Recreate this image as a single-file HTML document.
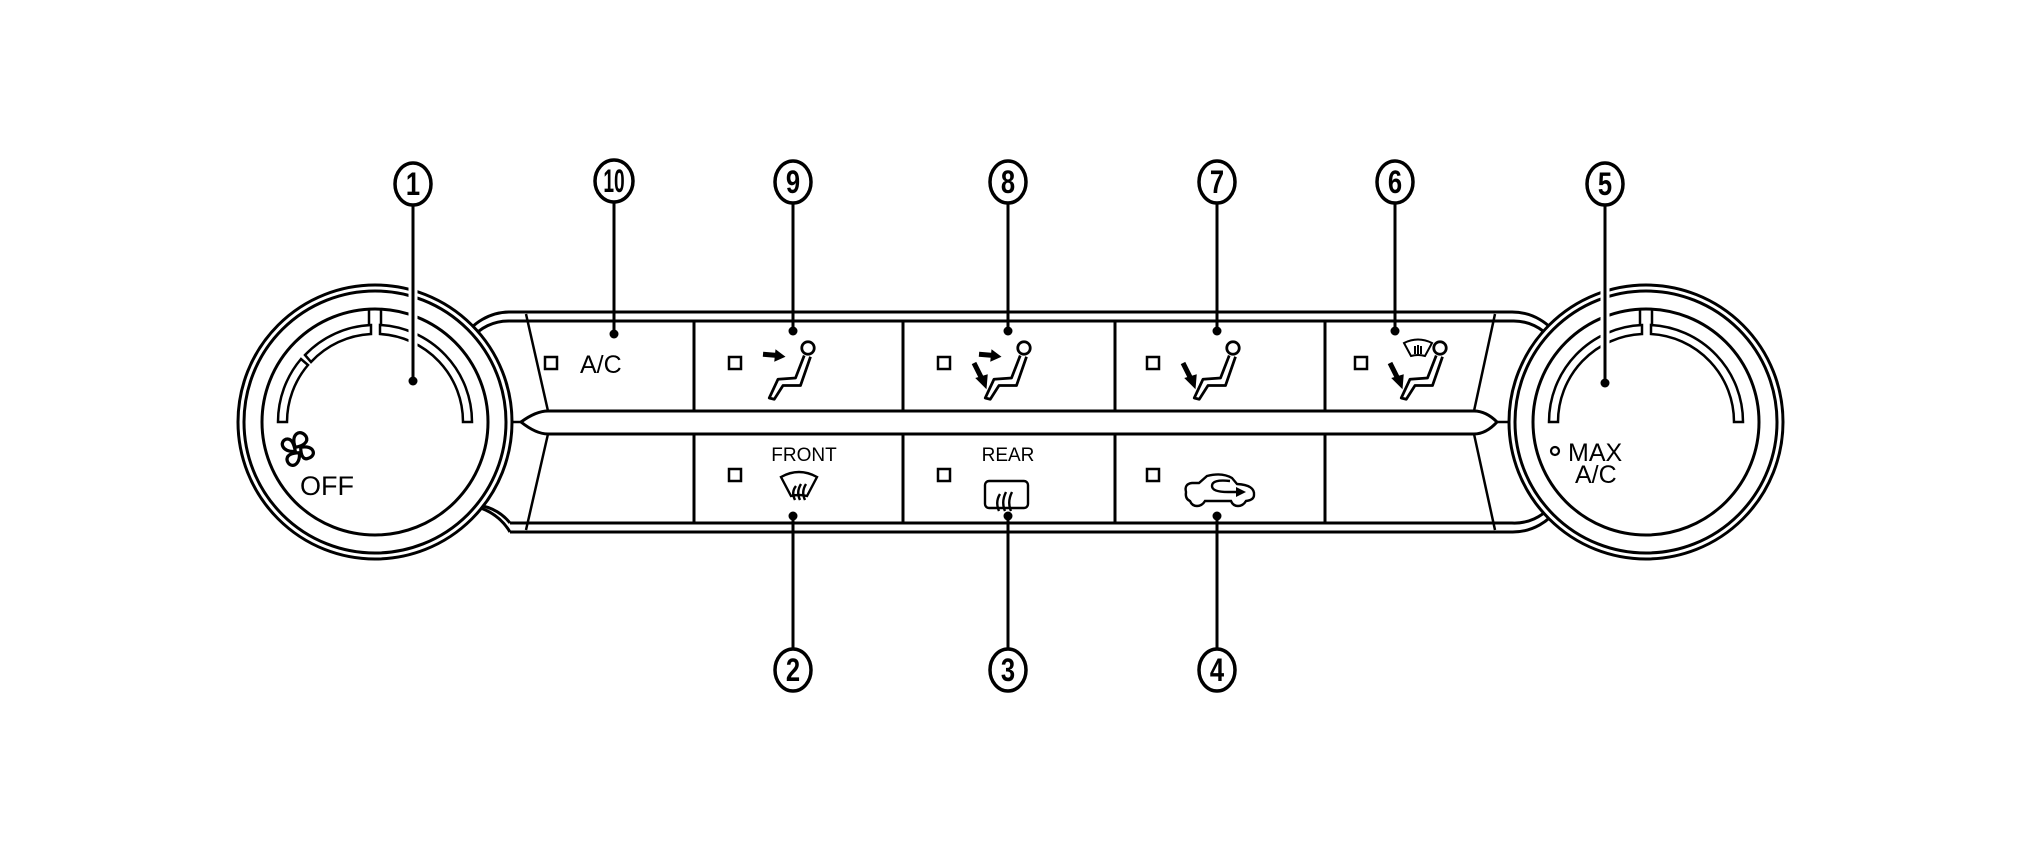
<!DOCTYPE html>
<html><head><meta charset="utf-8"><style>
html,body{margin:0;padding:0;background:#fff;}
svg{display:block;}
text{font-family:"Liberation Sans",sans-serif;fill:#000;}
</style></head><body>
<svg width="2020" height="851" viewBox="0 0 2020 851" xmlns="http://www.w3.org/2000/svg">
<defs>
<g id="person">
  <circle cx="0" cy="0" r="5" fill="#fff" stroke="#000" stroke-width="2.2"/>
  <path d="M-3,6 L-10,24 L-24,25 L-31,40 L-27,41 L-20,30 L-6,30 L2,7" fill="#fff" stroke="#000" stroke-width="2.2" stroke-linejoin="round"/>
</g>
<g id="arrR"><path d="M-36,5 L-24,6" stroke="#000" stroke-width="4"/><path d="M-26,1 L-18,7 L-27,11 Z" fill="#000"/></g>
<g id="arrD"><path d="M-40,12 L-34,24" stroke="#000" stroke-width="4"/><path d="M-39,24 L-30,33 L-29,21 Z" fill="#000"/></g>
</defs>

<g fill="none" stroke="#000">
<path d="M510,312 L1512,312 A55,55 0 0 1 1560,340" stroke-width="3"/>
<path d="M510,321 L1512,321 A48,48 0 0 1 1552,340" stroke-width="3"/>
<path d="M510,532 L1512,532 A55,55 0 0 0 1560,505" stroke-width="3"/>
<path d="M510,523 L1512,523 A48,48 0 0 0 1552,505" stroke-width="3"/>
<path d="M510,312 A55,55 0 0 0 462,340" stroke-width="3"/>
<path d="M510,321 A48,48 0 0 0 470,340" stroke-width="3"/>
<path d="M510,532 A55,55 0 0 0 462,505" stroke-width="3"/>
<path d="M510,523 A48,48 0 0 0 470,505" stroke-width="3"/>
<path d="M548,411 L1474,411 Q1486,411 1497,422 Q1486,434 1474,434 L548,434 Q536,434 521,422 Q536,411 548,411 Z" fill="#fff" stroke-width="3"/>
<line x1="509" y1="422" x2="521" y2="422" stroke-width="2.5"/>
<line x1="1497" y1="422" x2="1511" y2="422" stroke-width="2.5"/>
<line x1="526" y1="314" x2="548" y2="411" stroke-width="2.5"/>
<line x1="548" y1="434" x2="526" y2="530" stroke-width="2.5"/>
<line x1="1495" y1="314" x2="1474" y2="411" stroke-width="2.5"/>
<line x1="1474" y1="434" x2="1495" y2="530" stroke-width="2.5"/>
<g stroke-width="3">
<line x1="694" y1="321" x2="694" y2="411"/><line x1="694" y1="434" x2="694" y2="523"/>
<line x1="903" y1="321" x2="903" y2="411"/><line x1="903" y1="434" x2="903" y2="523"/>
<line x1="1115" y1="321" x2="1115" y2="411"/><line x1="1115" y1="434" x2="1115" y2="523"/>
<line x1="1325" y1="321" x2="1325" y2="411"/><line x1="1325" y1="434" x2="1325" y2="523"/>
</g>
</g>

<g fill="none" stroke="#000">
<g>
<circle cx="375" cy="422" r="137" fill="#fff" stroke-width="3"/>
<circle cx="375" cy="422" r="131" stroke-width="3"/>
<circle cx="375" cy="422" r="113" stroke-width="3"/>
<path d="M278,422 A97,97 0 0 1 301,359 L308,365 A88,88 0 0 0 287,422 Z" stroke-width="2.5"/>
<path d="M305,355 A97,97 0 0 1 371,325 L371,334 A88,88 0 0 0 311,362 Z" stroke-width="2.5"/>
<path d="M380,325 A97,97 0 0 1 472,422 L463,422 A88,88 0 0 0 380,334 Z" stroke-width="2.5"/>
<path d="M369,309 L369,325 M381,309 L381,325" stroke-width="2.5"/>
</g>
<g>
<circle cx="1646" cy="422" r="137" fill="#fff" stroke-width="3"/>
<circle cx="1646" cy="422" r="131" stroke-width="3"/>
<circle cx="1646" cy="422" r="113" stroke-width="3"/>
<path d="M1549,422 A97,97 0 0 1 1642,325 L1642,334 A88,88 0 0 0 1558,422 Z" stroke-width="2.5"/>
<path d="M1651,325 A97,97 0 0 1 1743,422 L1734,422 A88,88 0 0 0 1651,334 Z" stroke-width="2.5"/>
<path d="M1640,309 L1640,325 M1652,309 L1652,325" stroke-width="2.5"/>
</g>
</g>

<g fill="none" stroke="#000" stroke-width="2.4" transform="translate(298,450) scale(1.35)">
<path d="M-2,-2 C-6,-12 2,-16 6,-10 C8,-6 4,-3 -2,-2 Z"/>
<path d="M2,-2 C12,-4 14,4 8,6 C4,8 2,4 2,-2 Z"/>
<path d="M1,2 C2,12 -6,14 -8,8 C-9,4 -5,2 1,2 Z"/>
<path d="M-2,1 C-12,2 -14,-6 -9,-8 C-5,-9 -3,-5 -2,1 Z"/>
</g>
<text x="300" y="495" font-size="27">OFF</text>
<circle cx="1555" cy="451" r="4" fill="none" stroke="#000" stroke-width="2.2"/>
<text x="1568" y="461" font-size="25">MAX</text>
<text x="1575" y="483" font-size="25">A/C</text>

<g fill="#fff" stroke="#000" stroke-width="2.5">
<rect x="545" y="357" width="12" height="12"/>
<rect x="729" y="357" width="12" height="12"/>
<rect x="938" y="357" width="12" height="12"/>
<rect x="1147" y="357" width="12" height="12"/>
<rect x="1355" y="357" width="12" height="12"/>
<rect x="729" y="469" width="12" height="12"/>
<rect x="938" y="469" width="12" height="12"/>
<rect x="1147" y="469" width="12" height="12"/>
</g>
<text x="580" y="373" font-size="25">A/C</text>

<g transform="translate(808,348) scale(1.25)"><use href="#person"/><use href="#arrR"/></g>
<g transform="translate(1024,348) scale(1.25)"><use href="#person"/><use href="#arrR"/><use href="#arrD"/></g>
<g transform="translate(1233,348) scale(1.25)"><use href="#person"/><use href="#arrD"/></g>
<g transform="translate(1440,348) scale(1.25)"><use href="#person"/><use href="#arrD"/></g>
<g fill="none" stroke="#000" stroke-width="2">
<path d="M1404,343 Q1418,336 1432,343 L1425,356 Q1418,354 1411,356 Z"/>
<path d="M1415,346 L1415,354 M1418,345 L1418,354 M1421,346 L1421,354"/>
</g>

<text x="804" y="461" font-size="19" text-anchor="middle">FRONT</text>
<text x="1008" y="461" font-size="19" text-anchor="middle">REAR</text>
<g fill="none" stroke="#000" stroke-width="2.4">
<path d="M781,477 Q799,467 817,477 L807,496 Q799,494 791,496 Z"/>
<path d="M795,500 Q791,492 796,486 M800,500 Q796,492 801,484 M805,500 Q801,492 806,484"/>
<rect x="985" y="481" width="43" height="27" rx="4"/>
<path d="M999,511 Q995,502 1000,494 M1005,511 Q1001,502 1006,492 M1011,511 Q1007,502 1012,492"/>
<path d="M1186,492 Q1184,484 1192,483 L1199,483 L1207,476 Q1222,472 1232,478 L1237,484 Q1255,485 1254,495 Q1254,500 1246,501 Q1243,506 1238,506 Q1233,506 1231,501 L1205,501 Q1202,506 1197,506 Q1192,506 1190,501 Q1185,499 1186,492 Z"/>
<path d="M1230,481 Q1212,479 1212,486 Q1212,492 1228,492 L1240,492"/>
</g>
<path d="M1236,487 L1246,492 L1236,497 Z" fill="#000"/>

<g stroke="#000" stroke-width="3">
<line x1="413" y1="203" x2="413" y2="381" stroke="#fff" stroke-width="9"/>
<line x1="413" y1="203" x2="413" y2="381"/>
<line x1="614" y1="202" x2="614" y2="334"/>
<line x1="793" y1="203" x2="793" y2="331"/>
<line x1="1008" y1="203" x2="1008" y2="331"/>
<line x1="1217" y1="203" x2="1217" y2="331"/>
<line x1="1395" y1="203" x2="1395" y2="331"/>
<line x1="1605" y1="205" x2="1605" y2="383" stroke="#fff" stroke-width="9"/>
<line x1="1605" y1="205" x2="1605" y2="383"/>
<line x1="793" y1="516" x2="793" y2="649"/>
<line x1="1008" y1="516" x2="1008" y2="649"/>
<line x1="1217" y1="516" x2="1217" y2="649"/>
</g>
<g fill="#000">
<circle cx="413" cy="381" r="4.5"/><circle cx="614" cy="334" r="4.5"/>
<circle cx="793" cy="331" r="4.5"/><circle cx="1008" cy="331" r="4.5"/>
<circle cx="1217" cy="331" r="4.5"/><circle cx="1395" cy="331" r="4.5"/>
<circle cx="1605" cy="383" r="4.5"/>
<circle cx="793" cy="516" r="4.5"/><circle cx="1008" cy="516" r="4.5"/><circle cx="1217" cy="516" r="4.5"/>
</g>

<g fill="#fff" stroke="#000" stroke-width="3.5">
<ellipse cx="413" cy="184" rx="18" ry="21"/>
<ellipse cx="614" cy="181" rx="19" ry="21"/>
<ellipse cx="793" cy="182" rx="18" ry="21"/>
<ellipse cx="1008" cy="182" rx="18" ry="21"/>
<ellipse cx="1217" cy="182" rx="18" ry="21"/>
<ellipse cx="1395" cy="182" rx="18" ry="21"/>
<ellipse cx="1605" cy="184" rx="18" ry="21"/>
<ellipse cx="793" cy="670" rx="18" ry="21"/>
<ellipse cx="1008" cy="670" rx="18" ry="21"/>
<ellipse cx="1217" cy="670" rx="18" ry="21"/>
</g>
<g font-size="32" font-weight="bold" text-anchor="middle">
<text transform="translate(413,195) scale(0.8,1)">1</text>
<text transform="translate(614,192) scale(0.6,1)">10</text>
<text transform="translate(793,193) scale(0.8,1)">9</text>
<text transform="translate(1008,193) scale(0.8,1)">8</text>
<text transform="translate(1217,193) scale(0.8,1)">7</text>
<text transform="translate(1395,193) scale(0.8,1)">6</text>
<text transform="translate(1605,195) scale(0.8,1)">5</text>
<text transform="translate(793,681) scale(0.8,1)">2</text>
<text transform="translate(1008,681) scale(0.8,1)">3</text>
<text transform="translate(1217,681) scale(0.8,1)">4</text>
</g>
</svg>
</body></html>
